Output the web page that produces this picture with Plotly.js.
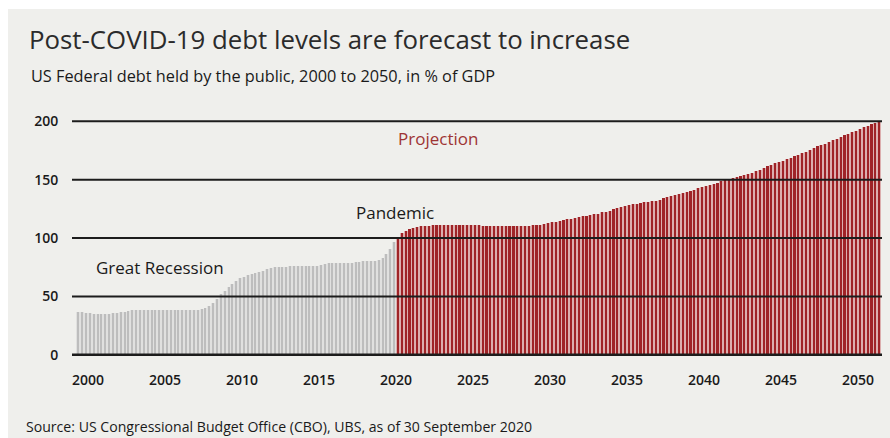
<!DOCTYPE html>
<html>
<head>
<meta charset="utf-8">
<script src="https://cdn.plot.ly/plotly-3.0.1.min.js"></script>
<style>html,body{margin:0;padding:0;background:#fff;}#chart{width:890px;height:438px;}</style>
</head>
<body>
<div id="chart"></div>
<script>
// ---- Data (US Federal debt held by the public, % of GDP, quarterly bars) ----
var histStart = 1999.25;   // first historical quarter (Q2 1999)
var histValues = [
  37, 36.5, 36,
  35.5, 35, 35, 35,
  35, 35, 35.5, 36,
  36.5, 37, 37.5, 38,
  38, 38.5, 38.5, 38.5,
  38.5, 38.5, 38.5, 38.5,
  38.5, 38.5, 38.5, 38.5,
  38.5, 38.5, 38.5, 38.5,
  38.5, 39, 40, 41.5,
  44, 48, 52, 55,
  58, 61, 63.5, 65.5,
  67, 68, 69, 70,
  71, 72, 73.5, 74.5,
  75, 75, 75.5, 75.5,
  76, 76, 76, 76,
  76, 76, 76, 76,
  77, 78, 78.5, 78.5,
  78.5, 79, 79, 79,
  79, 79.5, 79.5, 80,
  80, 80, 80.5, 81,
  83, 86, 91, 97
];
var projStart = 2020.0;    // first projected quarter (Q1 2020)
var projValues = [
  101, 104, 106.5, 108,
  109, 109.5, 110, 110.5,
  110.5, 111, 111, 111,
  111, 111, 111, 111,
  111, 111, 111, 111,
  111, 111, 110.5, 110.5,
  110, 110, 110, 110,
  110, 110, 110, 110,
  110, 110.5, 110.5, 111,
  111, 111.5, 112, 113,
  113.5, 114, 115, 115.5,
  116, 116.5, 117, 118,
  118.5, 119, 120, 120.5,
  121, 122, 122.5, 123.5,
  124.5, 125.5, 126.5, 127.5,
  128, 129, 129.5, 130,
  130.5, 131, 131.5, 132,
  133, 134, 135, 136,
  137, 137.5, 138.5, 139.5,
  140.5, 141.5, 142.5, 143.5,
  144.5, 145.5, 146.5, 147.5,
  148.5, 149.5, 150.5, 151.5,
  152.5, 153.5, 154, 155,
  156, 157.5, 158.5, 160,
  161.5, 162.5, 164, 165,
  166, 167.5, 168.5, 170,
  171, 172.5, 174, 175.5,
  177, 178.5, 180, 181,
  182.5, 184, 185, 186.5,
  188, 189, 190.5, 192,
  193.5, 195, 196, 197.5,
  198.5, 199.5
];
var xTickVals = [2000, 2005, 2010, 2015, 2020, 2025, 2030, 2035, 2040, 2045, 2050];
var xTickText = ['2000','2005','2010','2015','2020','2025','2030','2035','2040','2045','2050'];
var yTickVals = [0, 50, 100, 150, 200];
var yTickText = ['0','50','100','150','200'];

var titleText = 'Post-COVID-19 debt levels are forecast to increase';
var subtitleText = 'US Federal debt held by the public, 2000 to 2050, in % of GDP';
var sourceText = 'Source: US Congressional Budget Office (CBO), UBS, as of 30 September 2020';
var labelRecession = 'Great Recession';
var labelPandemic = 'Pandemic';
var labelProjection = 'Projection';

// ---- Build ----
function quarterX(start, n) {
  var xs = [];
  for (var i = 0; i < n; i++) xs.push(start + i * 0.25 + 0.125);
  return xs;
}
var histX = quarterX(histStart, histValues.length);
var projX = quarterX(projStart, projValues.length);

var xRange = [1998.96, 2051.56];
var FONT = 'Open Sans, Noto Sans, sans-serif';

var traces = [
  {type:'bar', x: histX, y: histValues, width: 0.25, marker:{color:'#e0e0df'}, hoverinfo:'skip', showlegend:false},
  {type:'bar', x: histX, y: histValues, width: 0.13, marker:{color:'#bdbdbd'}, showlegend:false},
  {type:'bar', x: projX, y: projValues, width: 0.25, marker:{color:'#dcaeae'}, hoverinfo:'skip', showlegend:false},
  {type:'bar', x: projX, y: projValues, width: 0.14, marker:{color:'#9f2327'}, showlegend:false}
];

var shapes = [
  // light grey panel background (white border strip at top/left)
  {type:'rect', xref:'paper', yref:'paper', x0:(8-72)/810, x1:1.02, y0:-0.4, y1:(356-9)/237, fillcolor:'#efefec', line:{width:0}, layer:'below'}
];
yTickVals.forEach(function(v){
  shapes.push({type:'line', xref:'x', yref:'y', x0:xRange[0], x1:xRange[1], y0:v, y1:v,
    line:{color:'#1c1c1c', width: v === 0 ? 2.5 : 2}, layer:'above'});
});

var layout = {
  width: 890, height: 438,
  margin: {l:72, r:8, t:119, b:82},
  paper_bgcolor: '#ffffff',
  plot_bgcolor: 'rgba(0,0,0,0)',
  barmode: 'overlay',
  bargap: 0,
  title: {text: titleText, font:{family: FONT, size: 25.8, color:'#2b2b2b'},
          x: 29/890, xanchor:'left', xref:'container', y: 1 - 40/438, yanchor:'middle', yref:'container'},
  xaxis: {range: xRange, tickvals: xTickVals, ticktext: xTickText, showgrid:false, zeroline:false,
          showline:false, ticks:'outside', ticklen:11, tickcolor:'rgba(0,0,0,0)',
          tickfont:{family: FONT, size: 14, color:'#1a1a1a', weight: 600}, fixedrange:true},
  yaxis: {range: [-1, 202], tickvals: yTickVals, ticktext: yTickText, showgrid:false, zeroline:false,
          showline:false, ticks:'outside', ticklen:10, tickcolor:'rgba(0,0,0,0)',
          tickfont:{family: FONT, size: 14, color:'#1a1a1a', weight: 600}, fixedrange:true},
  shapes: shapes,
  annotations: [
    {text: subtitleText, xref:'paper', yref:'paper', x:(29-72)/810, y:(356-76)/237, xanchor:'left', yanchor:'middle',
     showarrow:false, font:{family: FONT, size: 16.3, color:'#1a1a1a'}},
    {text: sourceText, xref:'paper', yref:'paper', x:(24-72)/810, y:(356-426)/237, xanchor:'left', yanchor:'middle',
     showarrow:false, font:{family: FONT, size: 14.1, color:'#1a1a1a'}},
    {text: labelRecession, xref:'x', yref:'y', x: 2004.68, y: 74.5, xanchor:'center', yanchor:'middle',
     showarrow:false, font:{family: FONT, size: 17, color:'#1a1a1a'}},
    {text: labelPandemic, xref:'x', yref:'y', x: 2019.94, y: 121.5, xanchor:'center', yanchor:'middle',
     showarrow:false, font:{family: FONT, size: 17, color:'#1a1a1a'}},
    {text: labelProjection, xref:'x', yref:'y', x: 2022.73, y: 185.6, xanchor:'center', yanchor:'middle',
     showarrow:false, font:{family: FONT, size: 17, color:'#9e3434'}}
  ]
};

Plotly.newPlot('chart', traces, layout, {displayModeBar:false, staticPlot:true});
</script>
</body>
</html>
